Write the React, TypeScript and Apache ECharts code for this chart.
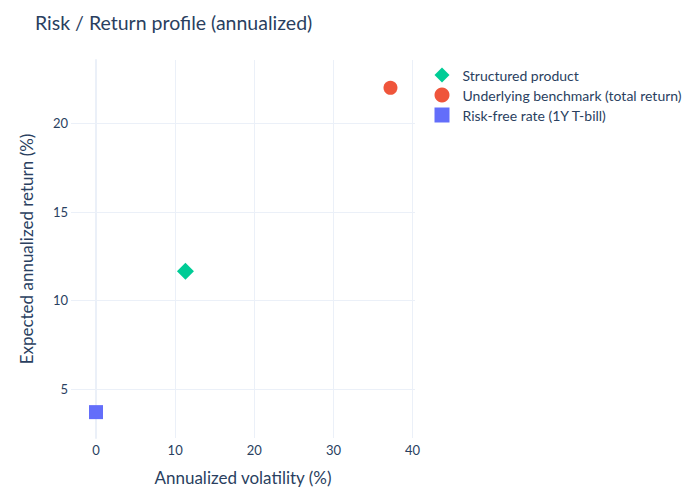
import React, { useEffect, useRef } from "react";
import * as echarts from "echarts";

const seriesNames = [
  "Structured product",
  "Underlying benchmark (total return)",
  "Risk-free rate (1Y T-bill)",
];
const volatility = [11.3, 37.2, 0];
const expectedReturn = [11.65, 22.0, 3.7];
const colors = ["#00cc96", "#EF553B", "#636efa"];
const symbols = ["diamond", "circle", "rect"];
const symbolSizes = [17, 14, 14];

const TEXT = "#2a3f5f";
const GRID = "#EBF0F8";
const FONT = "Lato, 'Open Sans', sans-serif";

export default function App() {
  const ref = useRef<HTMLDivElement>(null);
  useEffect(() => {
    if (!ref.current) return;
    const chart = echarts.init(ref.current, undefined, { renderer: "svg" });
    chart.setOption({
      animation: false,
      backgroundColor: "#fff",
      textStyle: { fontFamily: FONT, color: TEXT },
      title: {
        text: "Risk / Return profile (annualized)",
        left: 30,
        top: 7,
        textStyle: { fontFamily: FONT, fontSize: 19.5, fontWeight: "normal", color: TEXT },
      },
      legend: {
        orient: "vertical",
        left: 434.5,
        top: 67.5,
        padding: 0,
        itemGap: 5,
        itemWidth: 15,
        itemHeight: 15,
        textStyle: { fontFamily: FONT, fontSize: 14, color: TEXT, padding: [0, 0, 0, 8] },
        data: seriesNames.map((n, i) => ({ name: n, icon: symbols[i] })),
      },
      grid: { left: 71, right: 285, top: 60, bottom: 62, containLabel: false },
      xAxis: {
        type: "value",
        min: -3.16,
        max: 40.3,
        splitNumber: 5,
        name: "Annualized volatility (%)",
        nameLocation: "middle",
        nameGap: 31,
        nameTextStyle: { fontFamily: FONT, fontSize: 17, color: TEXT },
        axisLine: { show: false },
        axisTick: { show: false },
        axisLabel: {
          fontFamily: FONT,
          fontSize: 13,
          color: TEXT,
          margin: 5,
          showMinLabel: false,
          showMaxLabel: false,
          interval: 0,
          formatter: (v: number) => (Math.abs(v % 10) < 1e-9 ? String(v) : ""),
        },
        splitLine: { show: true, showMinLine: false, showMaxLine: false, lineStyle: { color: GRID, width: 1 } },
      },
      yAxis: {
        type: "value",
        min: 2.24,
        max: 23.57,
        splitNumber: 5,
        name: "Expected annualized return (%)",
        nameLocation: "middle",
        nameGap: 36,
        nameTextStyle: { fontFamily: FONT, fontSize: 17, color: TEXT },
        axisLine: { show: true, onZero: true, lineStyle: { color: GRID, width: 2 } },
        axisTick: { show: false },
        axisLabel: {
          fontFamily: FONT,
          fontSize: 13,
          color: TEXT,
          margin: 3,
          showMinLabel: false,
          showMaxLabel: false,
          interval: 0,
          formatter: (v: number) => (Math.abs(v % 5) < 1e-9 ? String(v) : ""),
        },
        splitLine: { show: true, showMinLine: false, showMaxLine: false, lineStyle: { color: GRID, width: 1 } },
      },
      series: seriesNames.map((n, i) => ({
        name: n,
        type: "scatter",
        symbol: symbols[i],
        symbolSize: symbolSizes[i],
        itemStyle: { color: colors[i], opacity: 1 },
        data: [[volatility[i], expectedReturn[i]]],
        z: 3,
      })),
    });
    return () => chart.dispose();
  }, []);
  return (
    <div
      ref={ref}
      style={{ position: "absolute", left: 0, top: 0, width: 700, height: 500 }}
    />
  );
}
